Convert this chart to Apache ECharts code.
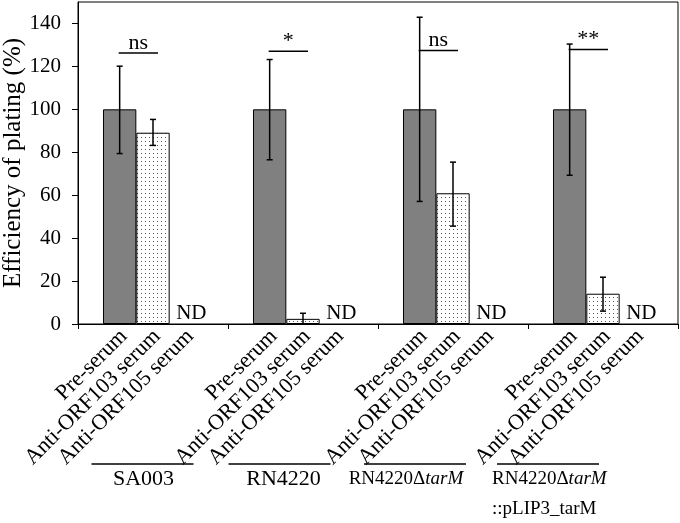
<!DOCTYPE html>
<html><head><meta charset="utf-8">
<script src="https://cdn.jsdelivr.net/npm/echarts@6/dist/echarts.min.js"></script>
<style>html,body{margin:0;padding:0;background:#fff}#c{width:680px;height:523px}</style>
</head><body><div id="c"></div>
<script>
// ---- data ----
const groups = ['SA003', 'RN4220', 'RN4220ΔtarM', 'RN4220ΔtarM\n::pLIP3_tarM'];
const seraLabels = ['Pre-serum', 'Anti-ORF103 serum', 'Anti-ORF105 serum'];
const preSerum = [100, 100, 100, 100];
const preLow = [79.4, 76.5, 57.1, 69.3];
const preHigh = [120.1, 123.2, 142.9, 130.4];
const orf103 = [89.1, 2.4, 60.9, 14.1];
const orf103Low = [83.2, 0, 45.6, 6.0];
const orf103High = [95.3, 5.0, 75.4, 21.8];
const orf105 = [0, 0, 0, 0];
const orf105Text = ['ND', 'ND', 'ND', 'ND'];
const sigText = ['ns', '*', 'ns', '**'];
const sigLevel = [126.2, 127.1, 127.4, 127.9];
const yTicks = [0, 20, 40, 60, 80, 100, 120, 140];

// ---- layout (pixel offsets of annotations) ----
const FONT = '"Liberation Serif", "Times New Roman", serif';
const groupLayout = [
  {lineDx: -10.5, textDx: -9.5, align: 'center', size: 22},
  {lineDx: -23.5, textDx: -19.5, align: 'center', size: 22},
  {lineDx: -38, textDx: -47, align: 'center', size: 19},
  {lineDx: -55, textDx: -111, align: 'left', size: 19}
];

// dotted pattern
const pc = document.createElement('canvas');
pc.width = 4; pc.height = 4;
const pctx = pc.getContext('2d');
pctx.fillStyle = '#fff'; pctx.fillRect(0, 0, 4, 4);
pctx.fillStyle = '#555'; pctx.fillRect(1, 1, 1, 1);

function richName(s) {
  return s.split('\n').map(line => {
    const i = line.indexOf('ΔtarM');
    if (i >= 0) return '{n|' + line.slice(0, i) + 'Δ}{i|tarM}';
    return '{n|' + line + '}';
  }).join('\n');
}

const errData = [];
for (let i = 0; i < groups.length; i++) {
  errData.push([i, preLow[i], preHigh[i], 0]);
  errData.push([i, orf103Low[i], orf103High[i], 1]);
}

const chart = echarts.init(document.getElementById('c'), null, {renderer: 'canvas'});
chart.setOption({
  animation: false,
  grid: {left: 78, right: 2, top: 2, bottom: 199, show: true, borderColor: '#000', borderWidth: 1,
         containLabel: false, outerBoundsMode: 'none'},
  xAxis: {
    type: 'category', data: groups,
    axisLine: {lineStyle: {color: '#000', width: 1}},
    axisTick: {show: true, inside: false, length: 5, lineStyle: {color: '#000'}},
    axisLabel: {show: false},
    splitLine: {show: false}
  },
  yAxis: {
    type: 'value', min: 0, max: 150,
    name: 'Efficiency of plating (%)', nameLocation: 'middle', nameGap: 52, nameMoveOverlap: false,
    nameTextStyle: {fontSize: 25, fontFamily: FONT, color: '#000'},
    axisLine: {show: true, lineStyle: {color: '#000', width: 1}},
    axisTick: {show: true, inside: false, length: 6, lineStyle: {color: '#000'}, customValues: yTicks},
    axisLabel: {fontSize: 21, fontFamily: FONT, color: '#000', margin: 17, customValues: yTicks},
    splitLine: {show: false}
  },
  series: [
    {type: 'bar', name: seraLabels[0], data: preSerum, barGap: '0%', barCategoryGap: '33.333%',
     itemStyle: {color: '#808080', borderColor: '#000', borderWidth: 1}},
    {type: 'bar', name: seraLabels[1], data: orf103, barGap: '0%', barCategoryGap: '33.333%',
     itemStyle: {color: {image: pc, repeat: 'repeat'}, borderColor: '#000', borderWidth: 1}},
    {type: 'bar', name: seraLabels[2], data: orf105, barGap: '0%', barCategoryGap: '33.333%',
     itemStyle: {color: '#fff', borderColor: 'rgba(0,0,0,0)', borderWidth: 0},
     label: {show: true, position: 'top', distance: 0, offset: [5, 0],
       formatter: p => orf105Text[p.dataIndex], fontSize: 21, fontFamily: FONT, color: '#000'}},
    {type: 'custom', name: 'err', z: 5, clip: false, data: errData, encode: {x: 0, y: [1, 2]},
     renderItem(params, api) {
       const idx = api.value(0), k = api.value(3);
       const band = api.size([1, 0])[0];
       const bw = band * (2 / 3) / 3;
       const x = api.coord([idx, 0])[0] + (k - 1) * bw;
       const yl = api.coord([idx, api.value(1)])[1];
       const yh = api.coord([idx, api.value(2)])[1];
       const cap = 3;
       const st = {stroke: '#000', lineWidth: 1.5};
       return {type: 'group', children: [
         {type: 'line', shape: {x1: x, y1: yl, x2: x, y2: yh}, style: st},
         {type: 'line', shape: {x1: x - cap, y1: yh, x2: x + cap, y2: yh}, style: st},
         {type: 'line', shape: {x1: x - cap, y1: yl, x2: x + cap, y2: yl}, style: st}
       ]};
     }},
    {type: 'custom', name: 'sig', z: 5, clip: false, data: sigLevel.map((v, i) => [i, v]), encode: {x: 0, y: 1},
     renderItem(params, api) {
       const idx = api.value(0);
       const band = api.size([1, 0])[0];
       const bw = band * (2 / 3) / 3;
       const c = api.coord([idx, api.value(1)]);
       const x1 = c[0] - bw - 1, x2 = c[0] + 5;
       return {type: 'group', children: [
         {type: 'line', shape: {x1: x1, y1: c[1], x2: x2, y2: c[1]}, style: {stroke: '#000', lineWidth: 1.5}},
         {type: 'text', style: {text: sigText[idx], x: (x1 + x2) / 2, y: c[1] + 1, align: 'center', verticalAlign: 'bottom',
           fontSize: 22, fontFamily: FONT, fill: '#000'}}
       ]};
     }},
    {type: 'custom', name: 'seraLabels', z: 5, clip: false, data: groups.map((g, i) => [i, 0]), encode: {x: 0, y: 1},
     renderItem(params, api) {
       const idx = api.value(0);
       const band = api.size([1, 0])[0];
       const bw = band * (2 / 3) / 3;
       const c = api.coord([idx, 0]);
       return {type: 'group', children: seraLabels.map((t, k) => ({
         type: 'text', x: c[0] + (k - 1) * bw + 4, y: c[1] + 9, rotation: Math.PI / 4,
         style: {text: t, x: 0, y: 0, align: 'right', verticalAlign: 'middle', fontSize: 22, fontFamily: FONT, fill: '#000'}
       }))};
     }},
    {type: 'custom', name: 'groupLabels', z: 5, clip: false, data: groups.map((g, i) => [i, 0]), encode: {x: 0, y: 1},
     renderItem(params, api) {
       const idx = api.value(0);
       const L = groupLayout[idx];
       const c = api.coord([idx, 0]);
       const lineY = c[1] + 140;
       const lc = c[0] + L.lineDx;
       return {type: 'group', children: [
         {type: 'line', shape: {x1: lc - 51, y1: lineY, x2: lc + 51, y2: lineY}, style: {stroke: '#000', lineWidth: 1.3}},
         {type: 'text', style: {text: richName(groups[idx]), x: c[0] + L.textDx, y: lineY, align: L.align, verticalAlign: 'top',
           lineHeight: 30, fill: '#000',
           rich: {
             n: {fontSize: L.size, fontFamily: FONT, fill: '#000', lineHeight: 30},
             i: {fontSize: L.size, fontFamily: FONT, fontStyle: 'italic', fill: '#000', lineHeight: 30}
           }}}
       ]};
     }}
  ]
});
</script>
</body></html>
